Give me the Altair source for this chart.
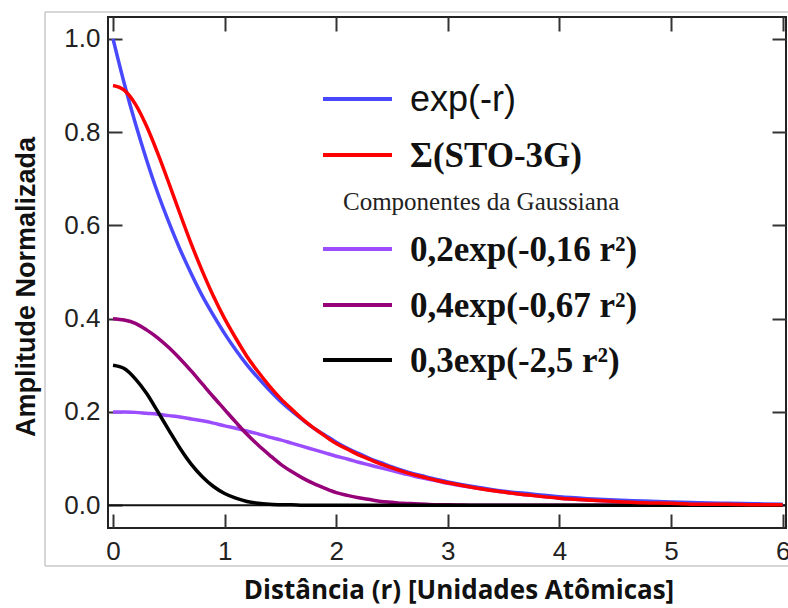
import altair as alt
import pandas as pd

# distance r (atomic units)
r = [0.0, 0.1, 0.2, 0.3, 0.4, 0.5, 0.6, 0.7, 0.8, 0.9, 1.0, 1.1, 1.2, 1.3, 1.4,
     1.5, 1.6, 1.7, 1.8, 1.9, 2.0, 2.1, 2.2, 2.3, 2.4, 2.5, 2.6, 2.7, 2.8, 2.9,
     3.0, 3.25, 3.5, 3.75, 4.0, 4.25, 4.5, 4.75, 5.0, 5.25, 5.5, 5.75, 6.0]

exp_r = [1.000, 0.905, 0.819, 0.741, 0.670, 0.607, 0.549, 0.497, 0.449, 0.407,
         0.368, 0.333, 0.301, 0.273, 0.247, 0.223, 0.202, 0.183, 0.165, 0.150,
         0.135, 0.122, 0.111, 0.100, 0.091, 0.082, 0.074, 0.067, 0.061, 0.055,
         0.050, 0.039, 0.030, 0.024, 0.018, 0.014, 0.011, 0.009, 0.007, 0.005,
         0.004, 0.003, 0.002]

sto3g = [0.900, 0.890, 0.860, 0.813, 0.755, 0.691, 0.625, 0.561, 0.502, 0.448,
         0.400, 0.358, 0.319, 0.286, 0.256, 0.229, 0.206, 0.184, 0.165, 0.148,
         0.132, 0.120, 0.108, 0.098, 0.088, 0.080, 0.072, 0.065, 0.059, 0.053,
         0.048, 0.037, 0.028, 0.021, 0.015, 0.011, 0.008, 0.005, 0.004, 0.002,
         0.002, 0.001, 0.001]

g016 = [0.200, 0.200, 0.199, 0.197, 0.195, 0.192, 0.189, 0.185, 0.181, 0.176,
        0.170, 0.165, 0.159, 0.153, 0.146, 0.140, 0.133, 0.126, 0.119, 0.112,
        0.105, 0.099, 0.092, 0.086, 0.080, 0.074, 0.068, 0.062, 0.057, 0.052,
        0.047, 0.037, 0.028, 0.021, 0.015, 0.011, 0.008, 0.005, 0.004, 0.002,
        0.002, 0.001, 0.001]

g067 = [0.400, 0.397, 0.390, 0.376, 0.359, 0.338, 0.314, 0.288, 0.260, 0.232,
        0.205, 0.178, 0.152, 0.129, 0.108, 0.088, 0.072, 0.058, 0.046, 0.036,
        0.027, 0.021, 0.016, 0.012, 0.008, 0.006, 0.004, 0.003, 0.002, 0.001,
        0.001, 0.000, 0.000, 0.000, 0.000, 0.000, 0.000, 0.000, 0.000, 0.000,
        0.000, 0.000, 0.000]

g25 = [0.300, 0.293, 0.271, 0.240, 0.201, 0.161, 0.122, 0.088, 0.061, 0.040,
       0.025, 0.015, 0.008, 0.004, 0.002, 0.001, 0.001, 0.000, 0.000, 0.000,
       0.000, 0.000, 0.000, 0.000, 0.000, 0.000, 0.000, 0.000, 0.000, 0.000,
       0.000, 0.000, 0.000, 0.000, 0.000, 0.000, 0.000, 0.000, 0.000, 0.000,
       0.000, 0.000, 0.000]

series_names = ["g016", "g067", "g25", "exp", "sto"]
series_values = [g016, g067, g25, exp_r, sto3g]
series_colors = ["#9b4dff", "#960078", "#000000", "#4848ff", "#ff0000"]

x_ticks = [0, 1, 2, 3, 4, 5, 6]
y_ticks = [0.0, 0.2, 0.4, 0.6, 0.8, 1.0]

rows = []
for name, vals in zip(series_names, series_values):
    for rv, v in zip(r, vals):
        rows.append({"r": rv, "v": v, "s": name})
df = pd.DataFrame(rows)

W, H = 678, 511
xs = alt.Scale(domain=[-0.045, 6.03], nice=False, zero=False)
ys = alt.Scale(domain=[-0.049, 1.047], nice=False, zero=False)

tick_common = dict(domain=False, grid=False, tickSize=14, tickWidth=2,
                   tickColor="#333333", offset=-14)

x_bottom = alt.Axis(orient="bottom", values=x_ticks, title=None, format="d",
                    labelFont="Liberation Sans", labelFontSize=26,
                    labelColor="#222222", labelPadding=10, **tick_common)
y_left = alt.Axis(orient="left", values=y_ticks, title=None, format=".1f",
                  labelFont="Liberation Sans", labelFontSize=26,
                  labelColor="#222222", labelPadding=8, **tick_common)

base = alt.Chart(df)

lines = []
for i, (name, col) in enumerate(zip(series_names, series_colors)):
    enc = dict(
        x=alt.X("r:Q", scale=xs, axis=x_bottom if i == 0 else None),
        y=alt.Y("v:Q", scale=ys, axis=y_left if i == 0 else None),
    )
    lines.append(
        base.transform_filter(alt.datum.s == name)
        .mark_line(color=col, strokeWidth=3.5, interpolate="monotone")
        .encode(**enc)
    )

# top and right tick-only axes
top_axis = alt.Chart(pd.DataFrame({"r": [0.0]})).mark_point(opacity=0).encode(
    x=alt.X("r:Q", scale=xs, axis=alt.Axis(orient="top", values=x_ticks, labels=False,
                                           title=None, **tick_common)),
    y=alt.Y("r:Q", scale=ys, axis=alt.Axis(orient="right", values=y_ticks, labels=False,
                                           title=None, **tick_common)),
)

zero_line = alt.Chart(pd.DataFrame({"z": [0.0]})).mark_rule(color="#111111", strokeWidth=2).encode(
    y=alt.Y("z:Q", scale=ys, axis=None), x=alt.value(0), x2=alt.value(W)
)

# legend (custom, to allow mixed fonts)
leg_keys = ["exp", "sto", "g016", "g067", "g25"]
leg_labels = ["exp(-r)", "Σ(STO-3G)", "0,2exp(-0,16 r²)", "0,4exp(-0,67 r²)", "0,3exp(-2,5 r²)"]
leg_fonts = ["Liberation Sans", "Liberation Serif", "Liberation Serif", "Liberation Serif", "Liberation Serif"]
leg_weights = ["normal", "bold", "bold", "bold", "bold"]
leg_sizes = [36, 35, 35, 35, 35]
leg_y = [82, 138, 232, 288, 343]
color_of = dict(zip(series_names, series_colors))

legend_layers = []
for key, lab, fnt, wt, fs, yy in zip(leg_keys, leg_labels, leg_fonts, leg_weights, leg_sizes, leg_y):
    legend_layers.append(
        alt.Chart(pd.DataFrame({"k": [key]})).mark_rule(color=color_of[key], strokeWidth=4).encode(
            x=alt.value(215), x2=alt.value(284), y=alt.value(yy)
        )
    )
    legend_layers.append(
        alt.Chart(pd.DataFrame({"t": [lab]})).mark_text(
            align="left", baseline="middle", font=fnt, fontWeight=wt, fontSize=fs, color="#111111"
        ).encode(text="t:N", x=alt.value(302), y=alt.value(yy + 1))
    )

comp_text = alt.Chart(pd.DataFrame({"t": ["Componentes da Gaussiana"]})).mark_text(
    align="left", baseline="middle", font="Liberation Serif", fontSize=25, color="#222222"
).encode(text="t:N", x=alt.value(235), y=alt.value(185))

x_title = alt.Chart(pd.DataFrame({"t": ["Distância (r) [Unidades Atômicas]"]})).mark_text(
    align="center", baseline="alphabetic", font="Open Sans", fontWeight="bold",
    fontSize=26, color="#111111"
).encode(text="t:N", x=alt.value(351), y=alt.value(582))

y_title = alt.Chart(pd.DataFrame({"t": ["Amplitude Normalizada"]})).mark_text(
    align="center", baseline="middle", font="Liberation Sans", fontWeight="bold",
    fontSize=27, angle=270, color="#111111"
).encode(text="t:N", x=alt.value(-81), y=alt.value(270))

# faint outer frame of the original figure
frame = [
    alt.Chart(pd.DataFrame({"a": [1]})).mark_rule(color="#c8c8c8", strokeWidth=1.5).encode(
        x=alt.value(-63), y=alt.value(-5), y2=alt.value(549)),
    alt.Chart(pd.DataFrame({"a": [1]})).mark_rule(color="#c8c8c8", strokeWidth=1.5).encode(
        x=alt.value(-63), x2=alt.value(690), y=alt.value(-5)),
    alt.Chart(pd.DataFrame({"a": [1]})).mark_rule(color="#c8c8c8", strokeWidth=1.5).encode(
        x=alt.value(-63), x2=alt.value(690), y=alt.value(549)),
]

chart = alt.layer(
    *frame, zero_line, top_axis, *lines, *legend_layers, comp_text, x_title, y_title
).properties(
    width=W, height=H,
    autosize=alt.AutoSizeParams(type="none"),
    padding={"left": 108, "top": 17, "right": 2, "bottom": 80},
    background="white",
).configure_view(stroke="#222222", strokeWidth=2)

chart.save("out.html", embed_options={"renderer": "svg", "actions": False})
